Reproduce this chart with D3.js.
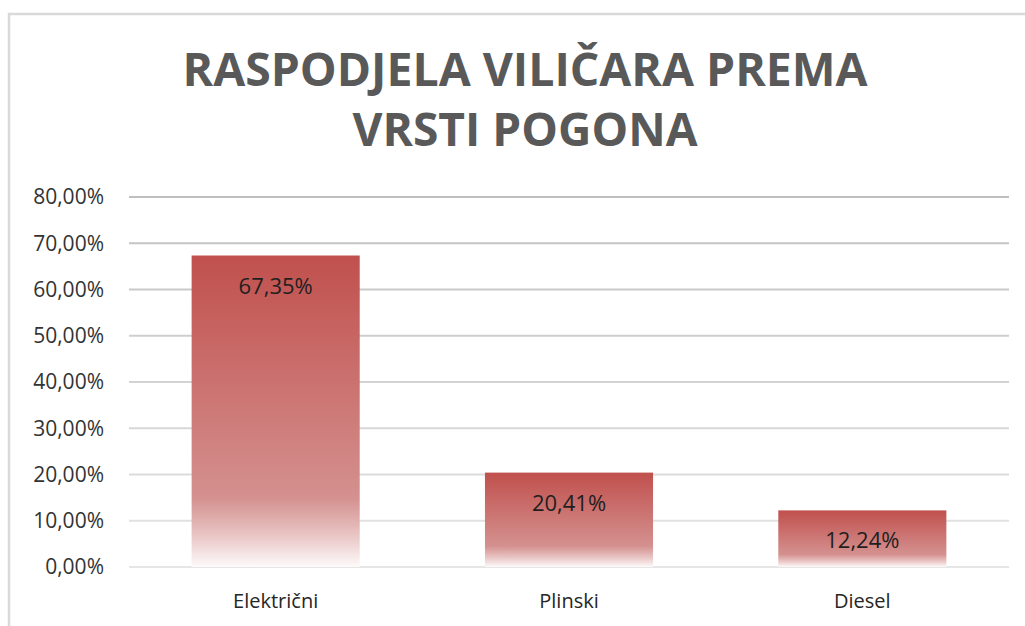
<!DOCTYPE html>
<html lang="hr">
<head>
<meta charset="UTF-8">
<title>Raspodjela viličara prema vrsti pogona</title>
<style>
  body { margin: 0; background: #fff; }
  svg { display: block; font-family: "Open Sans", "Noto Sans", sans-serif; }
</style>
</head>
<body>
<svg id="chart" width="1025" height="626"></svg>
<script src="https://d3js.org/d3.v7.min.js"></script>
<script>
// data
const categories = ["Električni", "Plinski", "Diesel"];
const shares = [67.35, 20.41, 12.24];
const yTicks = [0, 10, 20, 30, 40, 50, 60, 70, 80];
const titleLines = ["RASPODJELA VILIČARA PREMA", "VRSTI POGONA"];

const svg = d3.select("#chart");
const plotLeft = 129, plotRight = 1009, plotTop = 197, plotBottom = 567;

// chart border (top + left edges visible)
svg.append("path")
  .attr("d", "M9,626 V14 H1025")
  .attr("fill", "none")
  .attr("stroke", "#d9d9d9")
  .attr("stroke-width", 2.5);

// title
svg.append("g").selectAll("text")
  .data(titleLines).enter()
  .append("text")
  .attr("x", 525)
  .attr("y", (d, i) => 86 + i * 60)
  .attr("text-anchor", "middle")
  .attr("font-size", 46)
  .attr("font-weight", "bold")
  .attr("fill", "#595959")
  .attr("textLength", (d, i) => i === 0 ? 685 : 345)
  .attr("lengthAdjust", "spacingAndGlyphs")
  .text(d => d);

const x = d3.scaleBand()
  .domain(categories)
  .range([plotLeft, plotRight])
  .paddingInner(0.427)
  .paddingOuter(0.2135);

const y = d3.scaleLinear()
  .domain([0, 80])
  .range([plotBottom, plotTop]);

// gridlines, fading from grey at the top to very light at the bottom
const gridColor = d3.scaleLinear().domain([0, 80]).range(["#e6e6e6", "#bfbfbf"]);
svg.append("g").selectAll("line")
  .data(yTicks).enter()
  .append("line")
  .attr("x1", plotLeft).attr("x2", plotRight)
  .attr("y1", d => y(d)).attr("y2", d => y(d))
  .attr("stroke", d => gridColor(d))
  .attr("stroke-width", 2);

// y axis labels
const fmt = v => d3.format(".2f")(v).replace(".", ",") + "%";
svg.append("g").selectAll("text")
  .data(yTicks).enter()
  .append("text")
  .attr("x", 104)
  .attr("y", d => y(d))
  .attr("dy", "0.35em")
  .attr("text-anchor", "end")
  .attr("font-size", 21)
  .attr("fill", "#333333")
  .text(d => fmt(d));

// bar gradient
const defs = svg.append("defs");
const grad = defs.append("linearGradient")
  .attr("id", "barGrad")
  .attr("x1", 0).attr("y1", 0).attr("x2", 0).attr("y2", 1);
grad.append("stop").attr("offset", "0%").attr("stop-color", "#c0504d");
grad.append("stop").attr("offset", "78%").attr("stop-color", "#d4918f");
grad.append("stop").attr("offset", "90%").attr("stop-color", "#e9c6c5");
grad.append("stop").attr("offset", "100%").attr("stop-color", "#fdfafa");

const bars = categories.map((c, i) => ({ cat: c, val: shares[i] }));

svg.append("g").selectAll("rect")
  .data(bars).enter()
  .append("rect")
  .attr("x", d => x(d.cat))
  .attr("y", d => y(d.val))
  .attr("width", x.bandwidth())
  .attr("height", d => y(0) - y(d.val))
  .attr("fill", "url(#barGrad)");

// value labels inside top of bars
svg.append("g").selectAll("text")
  .data(bars).enter()
  .append("text")
  .attr("x", d => x(d.cat) + x.bandwidth() / 2)
  .attr("y", d => y(d.val) + 38)
  .attr("text-anchor", "middle")
  .attr("font-size", 22)
  .attr("fill", "#1f1f1f")
  .text(d => fmt(d.val));

// category labels
svg.append("g").selectAll("text")
  .data(categories).enter()
  .append("text")
  .attr("x", d => x(d) + x.bandwidth() / 2)
  .attr("y", 608)
  .attr("text-anchor", "middle")
  .attr("font-size", 20)
  .attr("fill", "#262626")
  .text(d => d);
</script>
</body>
</html>
